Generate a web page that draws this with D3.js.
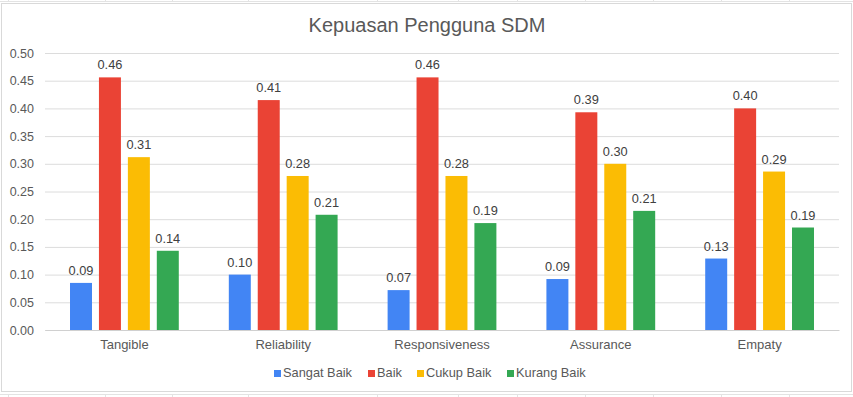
<!DOCTYPE html>
<html>
<head>
<meta charset="utf-8">
<script src="https://cdn.jsdelivr.net/npm/d3@7"></script>
<style>
  body { margin: 0; background: #fff; }
  svg { display: block; font-family: "Liberation Sans", Arial, sans-serif; }
</style>
</head>
<body>
<div id="chart"></div>
<script>
// chart data
const categories = ['Tangible', 'Reliability', 'Responsiveness', 'Assurance', 'Empaty'];
const seriesNames = ['Sangat Baik', 'Baik', 'Cukup Baik', 'Kurang Baik'];
const sangatBaik = [0.085, 0.100, 0.072, 0.092, 0.129];
const baik = [0.456, 0.415, 0.456, 0.393, 0.400];
const cukupBaik = [0.312, 0.278, 0.278, 0.300, 0.286];
const kurangBaik = [0.143, 0.208, 0.193, 0.215, 0.185];
const valueLabels = [
  ['0.09', '0.10', '0.07', '0.09', '0.13'],
  ['0.46', '0.41', '0.46', '0.39', '0.40'],
  ['0.31', '0.28', '0.28', '0.30', '0.29'],
  ['0.14', '0.21', '0.19', '0.21', '0.19']
];
const yTicks = [0, 0.05, 0.10, 0.15, 0.20, 0.25, 0.30, 0.35, 0.40, 0.45, 0.50];
const colors = ['#4285F4', '#EA4335', '#FBBC04', '#34A853'];

const seriesValues = [sangatBaik, baik, cukupBaik, kurangBaik];

const width = 853, height = 397;
const plot = { left: 45, right: 839, top: 53, bottom: 330 };

const svg = d3.select('#chart')
  .append('svg')
  .attr('width', width)
  .attr('height', height);

svg.append('rect')
  .attr('width', width)
  .attr('height', height)
  .attr('fill', '#fff');

// spreadsheet cell lines peeking around the chart object
const cellCols = [8, 105, 172, 248, 377, 458, 517, 585, 653, 721, 789];
svg.append('line')
  .attr('x1', 0).attr('x2', width).attr('y1', 1.5).attr('y2', 1.5)
  .attr('stroke', '#e3e3e3');
svg.append('line')
  .attr('x1', 0).attr('x2', width).attr('y1', 394.5).attr('y2', 394.5)
  .attr('stroke', '#e3e3e3');
cellCols.forEach(x => {
  svg.append('line')
    .attr('x1', x + 0.5).attr('x2', x + 0.5).attr('y1', 0).attr('y2', 2)
    .attr('stroke', '#e3e3e3');
  svg.append('line')
    .attr('x1', x + 0.5).attr('x2', x + 0.5).attr('y1', 394).attr('y2', height)
    .attr('stroke', '#e3e3e3');
});

// chart border
svg.append('rect')
  .attr('x', 1.5).attr('y', 3.5)
  .attr('width', 850).attr('height', 388)
  .attr('fill', '#fff')
  .attr('stroke', '#d9d9d9');

// scales
const x0 = d3.scaleBand()
  .domain(categories)
  .range([plot.left, plot.right])
  .paddingInner(0.315)
  .paddingOuter(0.1575);

const x1 = d3.scaleBand()
  .domain(seriesNames)
  .range([0, x0.bandwidth()])
  .paddingInner(0.24);

const y = d3.scaleLinear()
  .domain([0, 0.5])
  .range([plot.bottom, plot.top]);

// gridlines + y tick labels
const yAxis = d3.axisLeft(y)
  .tickValues(yTicks)
  .tickFormat(d3.format('.2f'))
  .tickSize(-(plot.right - plot.left))
  .tickPadding(11);

const yg = svg.append('g')
  .attr('transform', `translate(${plot.left},0)`)
  .call(yAxis);
yg.select('.domain').remove();
yg.selectAll('.tick line')
  .attr('stroke', '#dcdcdc');
yg.selectAll('.tick text')
  .attr('fill', '#595959')
  .attr('font-size', 12.5);

// title
svg.append('text')
  .attr('x', 427)
  .attr('y', 32)
  .attr('text-anchor', 'middle')
  .attr('font-size', 20)
  .attr('fill', '#595959')
  .text('Kepuasan Pengguna SDM');

// bars
const groups = svg.selectAll('.catGroup')
  .data(categories)
  .enter()
  .append('g')
  .attr('class', 'catGroup')
  .attr('transform', d => `translate(${x0(d)},0)`);

groups.selectAll('rect')
  .data((d, i) => seriesNames.map((s, j) => ({ series: s, j: j, value: seriesValues[j][i], label: valueLabels[j][i] })))
  .enter()
  .append('rect')
  .attr('x', d => x1(d.series))
  .attr('y', d => y(d.value))
  .attr('width', x1.bandwidth())
  .attr('height', d => y(0) - y(d.value))
  .attr('fill', d => colors[d.j]);

groups.selectAll('.valLabel')
  .data((d, i) => seriesNames.map((s, j) => ({ series: s, j: j, value: seriesValues[j][i], label: valueLabels[j][i] })))
  .enter()
  .append('text')
  .attr('class', 'valLabel')
  .attr('x', d => x1(d.series) + x1.bandwidth() / 2)
  .attr('y', d => y(d.value) - 8)
  .attr('text-anchor', 'middle')
  .attr('font-size', 12.8)
  .attr('fill', '#404040')
  .text(d => d.label);

// x axis line + category labels
const xAxis = d3.axisBottom(x0).tickSize(0).tickPadding(10);
const xg = svg.append('g')
  .attr('transform', `translate(0,${plot.bottom})`)
  .call(xAxis);
xg.select('.domain')
  .attr('stroke', '#d0d0d0');
xg.selectAll('.tick text')
  .attr('fill', '#595959')
  .attr('font-size', 13);

// legend
const legendX = [274, 368, 417, 507];
const legend = svg.append('g');
seriesNames.forEach((s, j) => {
  legend.append('rect')
    .attr('x', legendX[j])
    .attr('y', 370)
    .attr('width', 7)
    .attr('height', 7)
    .attr('fill', colors[j]);
  legend.append('text')
    .attr('x', legendX[j] + 9)
    .attr('y', 377)
    .attr('font-size', 12.8)
    .attr('fill', '#595959')
    .text(s);
});
</script>
</body>
</html>
